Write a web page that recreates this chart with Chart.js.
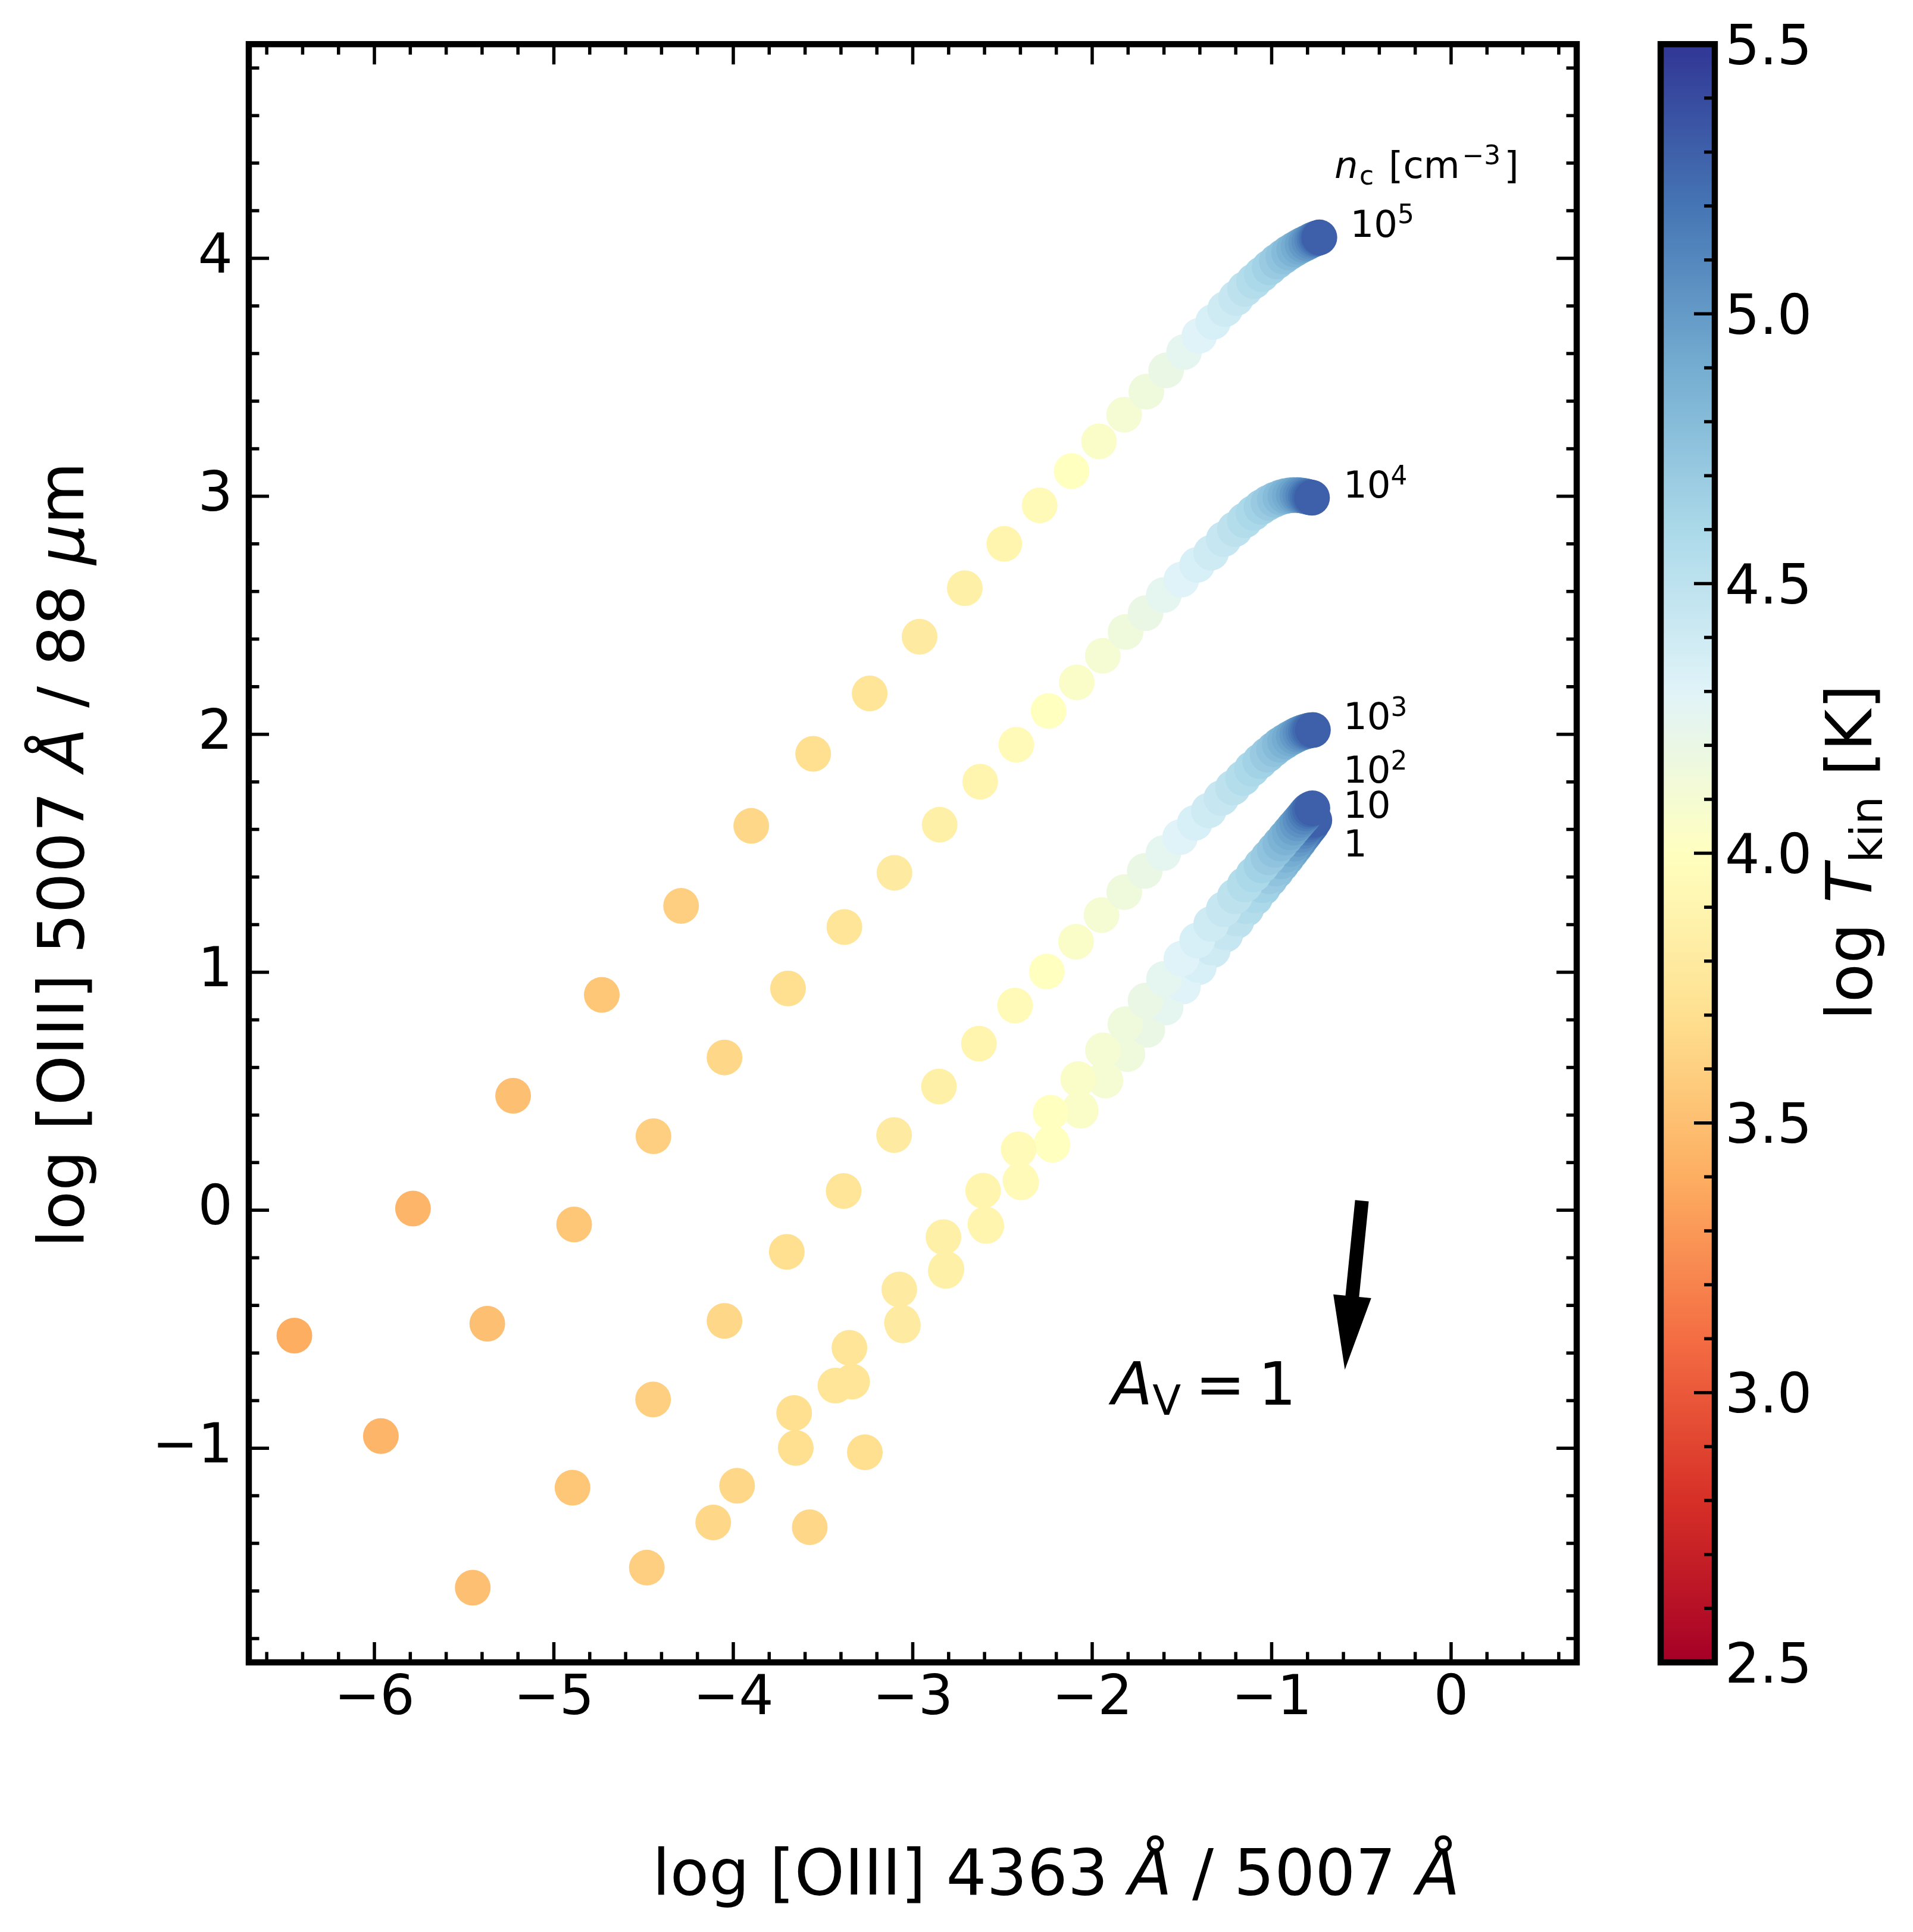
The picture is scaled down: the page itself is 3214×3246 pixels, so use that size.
<!DOCTYPE html>
<html>
<head>
<meta charset="utf-8">
<title>[OIII] 4363/5007 vs 5007/88um</title>
<script src="https://cdn.jsdelivr.net/npm/chart.js@4.4.1/dist/chart.umd.min.js"></script>
<style>
  html, body { margin: 0; padding: 0; background: #fff; }
  canvas { display: block; }
</style>
</head>
<body>
<canvas id="ratioChart" width="3214" height="3246" style="width:3214px;height:3246px"></canvas>
<script>
// log T_kin of every model point, one track per density n_c
const logT_1e5 = [3.40,3.45,3.50,3.55,3.60,3.65,3.70,3.75,3.80,3.85,3.90,3.95,4.00,4.05,4.10,4.15,4.20,4.25,4.30,4.35,4.40,4.45,4.50,4.55,4.60,4.65,4.70,4.75,4.80,4.85,4.90,4.95,5.00,5.05,5.10,5.15,5.20,5.25,5.30];
const logT_1e4 = [3.45,3.50,3.55,3.60,3.65,3.70,3.75,3.80,3.85,3.90,3.95,4.00,4.05,4.10,4.15,4.20,4.25,4.30,4.35,4.40,4.45,4.50,4.55,4.60,4.65,4.70,4.75,4.80,4.85,4.90,4.95,5.00,5.05,5.10,5.15,5.20,5.25,5.30];
const logT_1e3 = [3.50,3.55,3.60,3.65,3.70,3.75,3.80,3.85,3.90,3.95,4.00,4.05,4.10,4.15,4.20,4.25,4.30,4.35,4.40,4.45,4.50,4.55,4.60,4.65,4.70,4.75,4.80,4.85,4.90,4.95,5.00,5.05,5.10,5.15,5.20,5.25,5.30];
const logT_1e2 = [3.60,3.65,3.70,3.75,3.80,3.85,3.90,3.95,4.00,4.05,4.10,4.15,4.20,4.25,4.30,4.35,4.40,4.45,4.50,4.55,4.60,4.65,4.70,4.75,4.80,4.85,4.90,4.95,5.00,5.05,5.10,5.15,5.20,5.25,5.30];
const logT_1e1 = [3.65,3.70,3.75,3.80,3.85,3.90,3.95,4.00,4.05,4.10,4.15,4.20,4.25,4.30,4.35,4.40,4.45,4.50,4.55,4.60,4.65,4.70,4.75,4.80,4.85,4.90,4.95,5.00,5.05,5.10,5.15,5.20,5.25,5.30];
const logT_1e0 = [3.65,3.70,3.75,3.80,3.85,3.90,3.95,4.00,4.05,4.10,4.15,4.20,4.25,4.30,4.35,4.40,4.45,4.50,4.55,4.60,4.65,4.70,4.75,4.80,4.85,4.90,4.95,5.00,5.05,5.10,5.15,5.20,5.25,5.30];

// log [OIII] 4363/5007
const x_1e5 = [-6.446,-5.785,-5.227,-4.733,-4.291,-3.900,-3.555,-3.240,-2.962,-2.710,-2.490,-2.293,-2.115,-1.962,-1.822,-1.698,-1.588,-1.488,-1.403,-1.326,-1.259,-1.198,-1.149,-1.099,-1.055,-1.011,-0.971,-0.935,-0.903,-0.875,-0.850,-0.828,-0.808,-0.790,-0.774,-0.761,-0.750,-0.741,-0.734];
const x_1e4 = [-5.964,-5.371,-4.887,-4.445,-4.049,-3.695,-3.381,-3.102,-2.850,-2.624,-2.423,-2.243,-2.086,-1.941,-1.814,-1.703,-1.601,-1.503,-1.415,-1.337,-1.267,-1.205,-1.150,-1.101,-1.057,-1.018,-0.983,-0.952,-0.924,-0.899,-0.877,-0.857,-0.840,-0.824,-0.810,-0.798,-0.787,-0.775];
const x_1e3 = [-5.452,-4.896,-4.447,-4.049,-3.702,-3.385,-3.104,-2.854,-2.631,-2.430,-2.253,-2.090,-1.948,-1.821,-1.707,-1.603,-1.510,-1.428,-1.350,-1.280,-1.216,-1.160,-1.110,-1.064,-1.023,-0.987,-0.955,-0.926,-0.900,-0.877,-0.857,-0.839,-0.823,-0.809,-0.796,-0.785,-0.770];
const x_1e2 = [-4.482,-3.979,-3.661,-3.353,-3.075,-2.829,-2.608,-2.410,-2.232,-2.078,-1.940,-1.815,-1.703,-1.600,-1.503,-1.415,-1.337,-1.267,-1.205,-1.150,-1.101,-1.057,-1.018,-0.983,-0.952,-0.924,-0.899,-0.877,-0.857,-0.840,-0.824,-0.810,-0.798,-0.787,-0.773];
const x_1e1 = [-4.112,-3.652,-3.338,-3.060,-2.816,-2.595,-2.400,-2.225,-2.068,-1.930,-1.808,-1.697,-1.595,-1.498,-1.410,-1.332,-1.262,-1.200,-1.145,-1.096,-1.052,-1.013,-0.978,-0.947,-0.919,-0.894,-0.872,-0.852,-0.835,-0.819,-0.805,-0.793,-0.781,-0.765];
const x_1e0 = [-3.574,-3.267,-3.431,-3.055,-2.812,-2.590,-2.396,-2.221,-2.064,-1.926,-1.804,-1.693,-1.591,-1.494,-1.406,-1.328,-1.258,-1.196,-1.141,-1.092,-1.048,-1.009,-0.974,-0.943,-0.915,-0.890,-0.868,-0.848,-0.831,-0.815,-0.801,-0.789,-0.777,-0.762];

// log [OIII] 5007 / 88 um
const y_1e5 = [-0.527,0.007,0.481,0.905,1.279,1.615,1.918,2.172,2.410,2.614,2.800,2.962,3.106,3.231,3.343,3.440,3.529,3.606,3.675,3.733,3.787,3.833,3.871,3.904,3.933,3.962,3.987,4.007,4.024,4.037,4.048,4.057,4.064,4.071,4.077,4.081,4.084,4.086,4.088];
const y_1e4 = [-0.949,-0.477,-0.060,0.311,0.642,0.932,1.190,1.418,1.620,1.801,1.956,2.098,2.218,2.330,2.430,2.509,2.585,2.650,2.712,2.763,2.820,2.862,2.899,2.930,2.955,2.973,2.986,2.995,3.001,3.004,3.005,3.005,3.004,3.002,3.000,2.998,2.996,2.994];
const y_1e3 = [-1.586,-1.166,-0.795,-0.465,-0.175,0.081,0.316,0.520,0.700,0.860,1.003,1.128,1.240,1.337,1.426,1.501,1.568,1.628,1.680,1.732,1.776,1.816,1.855,1.887,1.914,1.937,1.956,1.970,1.982,1.991,1.999,2.005,2.009,2.012,2.015,2.017,2.018];
const y_1e2 = [-1.502,-1.158,-0.852,-0.578,-0.333,-0.113,0.082,0.256,0.410,0.551,0.672,0.782,0.881,0.972,1.057,1.134,1.203,1.265,1.319,1.368,1.411,1.449,1.483,1.514,1.541,1.566,1.588,1.608,1.625,1.640,1.654,1.667,1.677,1.684,1.689];
const y_1e1 = [-1.312,-0.999,-0.720,-0.473,-0.255,-0.059,0.125,0.283,0.426,0.553,0.665,0.767,0.861,0.950,1.031,1.103,1.168,1.225,1.277,1.323,1.366,1.403,1.436,1.466,1.493,1.518,1.540,1.560,1.578,1.594,1.608,1.620,1.631,1.640];
const y_1e0 = [-1.332,-1.017,-0.737,-0.484,-0.247,-0.066,0.117,0.275,0.418,0.545,0.656,0.758,0.852,0.940,1.021,1.093,1.158,1.215,1.267,1.313,1.355,1.392,1.425,1.455,1.482,1.507,1.529,1.549,1.567,1.583,1.597,1.609,1.620,1.639];

// axis ticks
const xTicks = [-6, -5, -4, -3, -2, -1, 0];
const yTicks = [-1, 0, 1, 2, 3, 4];
const cbTicks = [2.5, 3.0, 3.5, 4.0, 4.5, 5.0, 5.5];

const FONT = '"DejaVu Sans"';
const RdYlBu = ['#a50026','#d73027','#f46d43','#fdae61','#fee090','#ffffbf','#e0f3f8','#abd9e9','#74add1','#4575b4','#313695'];
const TMIN = 2.5, TMAX = 5.5;

function hexRgb(h) {
  return [1, 3, 5].map(i => parseInt(h.slice(i, i + 2), 16));
}
function cmap(v) {
  const t = Math.min(1, Math.max(0, (v - TMIN) / (TMAX - TMIN))) * 10;
  const i = Math.min(9, Math.floor(t)), f = t - i;
  const a = hexRgb(RdYlBu[i]), b = hexRgb(RdYlBu[i + 1]);
  const c = a.map((ch, k) => Math.round(ch + (b[k] - ch) * f));
  return `rgb(${c[0]},${c[1]},${c[2]})`;
}
const minus = v => (v < 0 ? '\u2212' + Math.abs(v) : String(v));

function track(xs, ys, ts) {
  return {
    data: xs.map((v, i) => ({ x: v, y: ys[i] })),
    pointBackgroundColor: ts.map(cmap),
    pointBorderWidth: 0,
    pointRadius: 30,
    pointHoverRadius: 30,
    showLine: false
  };
}

// text with italic / sub / sup runs, drawn left to right from (x, y) baseline
function rich(ctx, runs, x, y, size) {
  let cx = x;
  runs.forEach(r => {
    const s = (r.sub || r.sup) ? size * 0.7 : size;
    ctx.font = (r.it ? 'italic ' : '') + s.toFixed(1) + 'px ' + FONT;
    if (r.pad) cx += r.pad * size;
    const dy = r.sub ? size * 0.17 : r.sup ? -size * 0.36 : 0;
    ctx.fillText(r.t, cx, y + dy);
    cx += ctx.measureText(r.t).width;
    if (r.padAfter) cx += r.padAfter * size;
  });
}

const curveTags = [
  { runs: [{ t: '10' }, { t: '5', sup: 1 }], x: -0.562, y: 4.091 },
  { runs: [{ t: '10' }, { t: '4', sup: 1 }], x: -0.600, y: 2.994 },
  { runs: [{ t: '10' }, { t: '3', sup: 1 }], x: -0.600, y: 2.021 },
  { runs: [{ t: '10' }, { t: '2', sup: 1 }], x: -0.600, y: 1.796 },
  { runs: [{ t: '10' }], x: -0.600, y: 1.648 },
  { runs: [{ t: '1' }], x: -0.600, y: 1.487 }
];

const overlay = {
  id: 'overlay',
  afterDraw(chart) {
    const { ctx, chartArea: a, scales: { x, y } } = chart;
    ctx.save();
    ctx.strokeStyle = '#000';
    ctx.fillStyle = '#000';
    ctx.textBaseline = 'alphabetic';
    ctx.textAlign = 'left';

    // inward ticks on all four sides
    ctx.lineWidth = 5.5;
    ctx.beginPath();
    for (let k = -33; k <= 3; k++) {
      const px = x.getPixelForValue(k * 0.2);
      const len = k % 5 === 0 ? 34 : 17.5;
      ctx.moveTo(px, a.bottom); ctx.lineTo(px, a.bottom - len);
      ctx.moveTo(px, a.top); ctx.lineTo(px, a.top + len);
    }
    for (let k = -9; k <= 24; k++) {
      const py = y.getPixelForValue(k * 0.2);
      const len = k % 5 === 0 ? 34 : 17.5;
      ctx.moveTo(a.left, py); ctx.lineTo(a.left + len, py);
      ctx.moveTo(a.right, py); ctx.lineTo(a.right - len, py);
    }
    ctx.stroke();
    ctx.lineWidth = 10.4;
    ctx.strokeRect(a.left, a.top, a.right - a.left, a.bottom - a.top);

    // colour bar
    const cb = { left: 2790, right: 2881, top: a.top, bottom: a.bottom };
    const cbPix = v => cb.bottom - (v - TMIN) / (TMAX - TMIN) * (cb.bottom - cb.top);
    const g = ctx.createLinearGradient(0, cb.bottom, 0, cb.top);
    RdYlBu.forEach((c, i) => g.addColorStop(i / 10, c));
    ctx.fillStyle = g;
    ctx.fillRect(cb.left, cb.top, cb.right - cb.left, cb.bottom - cb.top);
    ctx.fillStyle = '#000';
    ctx.lineWidth = 5.5;
    ctx.beginPath();
    for (let k = 25; k <= 55; k++) {
      const py = cbPix(k / 10);
      const len = k % 5 === 0 ? 35 : 18;
      ctx.moveTo(cb.right, py); ctx.lineTo(cb.right - len, py);
    }
    ctx.stroke();
    ctx.lineWidth = 10.4;
    ctx.strokeRect(cb.left, cb.top, cb.right - cb.left, cb.bottom - cb.top);
    ctx.font = '92px ' + FONT;
    cbTicks.forEach(v => ctx.fillText(v.toFixed(1), 2898, cbPix(v) + 33.5));

    // axis titles
    rich(ctx, [{ t: 'log [OIII] 4363 ' }, { t: '\u00c5', it: 1 }, { t: ' / 5007 ' }, { t: '\u00c5', it: 1 }], 1096, 3183, 107);
    ctx.save();
    ctx.translate(140, 2096);
    ctx.rotate(-Math.PI / 2);
    rich(ctx, [{ t: 'log [OIII] 5007 ' }, { t: '\u00c5', it: 1 }, { t: ' / 88 ' }, { t: '\u03bc', it: 1 }, { t: 'm' }], 0, 0, 107);
    ctx.restore();
    ctx.save();
    ctx.translate(3144, 1714);
    ctx.rotate(-Math.PI / 2);
    rich(ctx, [{ t: 'log ' }, { t: 'T', it: 1 }, { t: 'kin', sub: 1, pad: 0.02 }, { t: ' [K]' }], 0, 0, 107);
    ctx.restore();

    // density tags
    rich(ctx, [{ t: 'n', it: 1 }, { t: 'c', sub: 1, pad: 0.04, padAfter: 0.08 }, { t: ' [cm' },
      { t: '\u22123', sup: 1, pad: 0.06, padAfter: 0.1 }, { t: ']' }],
      x.getPixelForValue(-0.650), y.getPixelForValue(4.338), 62.5);
    curveTags.forEach(c => rich(ctx, c.runs, x.getPixelForValue(c.x), y.getPixelForValue(c.y), 62.5));

    // extinction arrow A_V = 1
    const p0 = [x.getPixelForValue(-0.497), y.getPixelForValue(0.04)];
    const p1 = [x.getPixelForValue(-0.592), y.getPixelForValue(-0.67)];
    const dx = p1[0] - p0[0], dy = p1[1] - p0[1], L = Math.hypot(dx, dy);
    const ux = dx / L, uy = dy / L, nx = -uy, ny = ux;
    const hw = 11.5, hh = 32, hl = 124;
    const bx = p1[0] - ux * hl, by = p1[1] - uy * hl;
    ctx.beginPath();
    ctx.moveTo(p0[0] + nx * hw, p0[1] + ny * hw);
    ctx.lineTo(bx + nx * hw, by + ny * hw);
    ctx.lineTo(bx + nx * hh, by + ny * hh);
    ctx.lineTo(p1[0], p1[1]);
    ctx.lineTo(bx - nx * hh, by - ny * hh);
    ctx.lineTo(bx - nx * hw, by - ny * hw);
    ctx.lineTo(p0[0] - nx * hw, p0[1] - ny * hw);
    ctx.closePath();
    ctx.fill();
    rich(ctx, [{ t: 'A', it: 1 }, { t: 'V', sub: 1 }, { t: '=', pad: 0.24 }, { t: '1', pad: 0.22 }],
      x.getPixelForValue(-1.891), y.getPixelForValue(-0.816), 100);
    ctx.restore();
  }
};

const tickFont = { family: 'DejaVu Sans', size: 92 };

new Chart(document.getElementById('ratioChart').getContext('2d'), {
  type: 'scatter',
  data: {
    datasets: [
      track(x_1e5, y_1e5, logT_1e5),
      track(x_1e4, y_1e4, logT_1e4),
      track(x_1e3, y_1e3, logT_1e3),
      track(x_1e2, y_1e2, logT_1e2),
      track(x_1e1, y_1e1, logT_1e1),
      track(x_1e0, y_1e0, logT_1e0)
    ]
  },
  options: {
    responsive: false,
    devicePixelRatio: 1,
    animation: false,
    layout: { padding: { top: 74, right: 565, left: 0, bottom: 0 } },
    plugins: { legend: { display: false }, tooltip: { enabled: false } },
    scales: {
      x: {
        type: 'linear', min: -6.7, max: 0.7,
        afterBuildTicks: s => { s.ticks = xTicks.map(v => ({ value: v })); },
        afterFit: s => { s.height = 453; },
        grid: { display: false },
        border: { display: false },
        ticks: { font: tickFont, color: '#000', padding: 0, maxRotation: 0, autoSkip: false, callback: v => minus(v) }
      },
      y: {
        type: 'linear', min: -1.9, max: 4.9,
        afterBuildTicks: s => { s.ticks = yTicks.map(v => ({ value: v })); },
        afterFit: s => { s.width = 418; },
        grid: { display: false },
        border: { display: false },
        ticks: { font: tickFont, color: '#000', padding: 19, autoSkip: false, callback: v => minus(v) }
      }
    }
  },
  plugins: [overlay]
});
</script>
</body>
</html>
